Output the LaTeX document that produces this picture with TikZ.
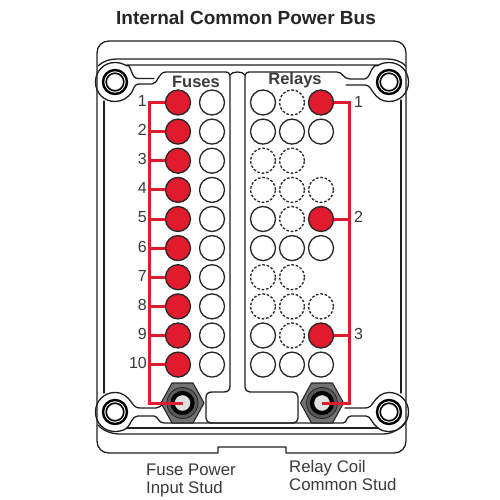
\documentclass[tikz,border=0pt]{standalone}
\usepackage{fontspec}
\setmainfont{Liberation Sans}
\definecolor{busred}{HTML}{E21A2D}
\definecolor{inkgray}{HTML}{3A3A3A}
\tikzset{
  wall/.style={draw=black!88,line width=1.3pt,line join=round,line cap=round},
  slot/.style={circle,draw=black!85,line width=1.3pt,fill=white,minimum size=25pt,inner sep=0pt},
  dashslot/.style={slot,dash pattern=on 2.6pt off 1.8pt},
  fuseon/.style={slot,fill=busred},
  bus/.style={draw=busred,line width=3pt,line join=miter},
  num/.style={text=inkgray,font=\fontsize{16}{16}\selectfont,inner sep=0pt},
  caption/.style={text=inkgray,font=\fontsize{16.8}{18}\selectfont,inner sep=0pt,align=left,anchor=north west},
  head/.style={text=inkgray,font=\bfseries\fontsize{16.5}{16.5}\selectfont,inner sep=0pt},
}
\newcommand{\screw}[3]{%
  \path[fill=white] (#2,#3) circle [radius=15];
  \path[draw=black,line width=2.4pt] (#2,#3) circle [radius=12];
  \path[draw=black,line width=1.6pt,fill=white] (#2,#3) circle [radius=8.8];
  \coordinate (#1) at (#2,#3);
}
\newcommand{\studnut}[3]{%
  \path[fill=black!55,draw=black!85,line width=1.1pt,line join=round]
    (#2-21.5,#3) -- (#2-10.5,#3-20) -- (#2+10.5,#3-20) -- (#2+21.5,#3) -- (#2+10.5,#3+20) -- (#2-10.5,#3+20) -- cycle;
  \path[fill=black!65,draw=black!85,line width=0.8pt] (#2,#3) circle [radius=15.5];
  \path[draw=black,line width=4.2pt,fill=black!12] (#2,#3) circle [radius=10];
  \coordinate (#1) at (#2,#3);
}
\begin{document}
\begin{tikzpicture}[x=1pt,y=-1pt]
\useasboundingbox (0,0) rectangle (500,500);
\fill[white] (0,0) rectangle (500,500);

% outer body
\draw[wall] (109,41) -- (394,41) .. controls (401,41) and (406,46) .. (406,53)
  -- (406,441) .. controls (406,448) and (401,453) .. (394,453)
  -- (286,453) -- (286,447) -- (218,447) -- (218,453) -- (109,453)
  .. controls (102,453) and (97,448) .. (97,441) -- (97,53)
  .. controls (97,46) and (102,41) .. (109,41) -- cycle;
% second line
\draw[wall] (98,66) .. controls (103,61) and (110,59) .. (117,59) -- (387,59)
  .. controls (394,59) and (401,61) .. (406,66);
\draw[wall] (98,425) .. controls (103,431) and (112,434) .. (120,434) -- (383,434)
  .. controls (392,434) and (401,429) .. (406,421);
% side walls
\draw[wall] (104,101) -- (104,393);
\draw[wall] (401,100) -- (401,393);

% top-left boss
\draw[wall] (127,66) .. controls (123,63.5) and (119,62.5) .. (115,62.5)
  .. controls (104,62.5) and (95.5,71) .. (95.5,82)
  .. controls (95.5,93) and (104,101.5) .. (115,101.5)
  .. controls (122,101.5) and (128,98) .. (132,92)
  .. controls (134,87) and (135,84) .. (139,84) -- (152,84)
  .. controls (158,84) and (158,72) .. (166,72) -- (226,72)
  .. controls (228,72) and (229,73) .. (230,75) -- (230,386)
  .. controls (230,390) and (228,392) .. (224,392) -- (212,392)
  .. controls (208,392) and (206,394) .. (206,398) -- (206,418)
  .. controls (206,421) and (208,423) .. (211,423) -- (293,423)
  .. controls (296,423) and (298,421) .. (298,418) -- (298,397)
  .. controls (298,394) and (296,392) .. (293,392) -- (250,392)
  .. controls (247,392) and (245,390) .. (245,387) -- (245,75)
  .. controls (246,73) and (247,72) .. (249,72) -- (337,72)
  .. controls (343,72) and (343,79) .. (350,79) -- (364,79)
  .. controls (371,79) and (370,65) .. (378,65) -- (127,65)
  .. controls (132,66) and (131,78.5) .. (138,78.5) -- (154,78.5);
\draw[wall] (230,75) .. controls (232,71) and (243,71) .. (245,75);
% top-right boss
\draw[wall] (346,85) -- (365,85) .. controls (369,85) and (371,89) .. (373,92)
  .. controls (377,98) and (382,101.5) .. (389,101.5)
  .. controls (400,101.5) and (408.5,93) .. (408.5,82)
  .. controls (408.5,71) and (400,62.5) .. (389,62.5)
  .. controls (384,62.5) and (380,64) .. (377,66);
% bottom-left boss
\draw[wall] (127,428) -- (378,428);
\draw[wall] (127,428) .. controls (131,424) and (132,416) .. (138,416) -- (154,416)
  .. controls (158,416) and (158,423) .. (164,423) -- (343,423)
  .. controls (347,423) and (346,416) .. (351,416) -- (366,416)
  .. controls (371,416) and (372,424) .. (378,428);
\draw[wall] (127,428) .. controls (124,430.5) and (119,431.5) .. (115,431.5)
  .. controls (104,431.5) and (95.5,423) .. (95.5,412)
  .. controls (95.5,401) and (104,392.5) .. (115,392.5)
  .. controls (123,392.5) and (128,397) .. (132,403)
  .. controls (134,406) and (136,408) .. (140,408) -- (156,408)
  .. controls (159,408) and (161,406) .. (164,403);
\draw[wall] (378,428) .. controls (381,430.5) and (385,431.5) .. (389,431.5)
  .. controls (400,431.5) and (408.5,423) .. (408.5,412)
  .. controls (408.5,401) and (400,392.5) .. (389,392.5)
  .. controls (382,392.5) and (377,397) .. (373,403)
  .. controls (371,406) and (369,408) .. (365,408) -- (345,408);

\screw{sTL}{115}{82}
\screw{sTR}{389}{82}
\screw{sBL}{115}{412}
\screw{sBR}{389}{412}

\studnut{studL}{182.5}{403}
\studnut{studR}{322}{403}

% slots
\foreach \i/\yy in {1/102.5,2/131.6,3/160.7,4/189.9,5/219,6/248.1,7/277.2,8/306.4,9/335.5,10/364.6}{
  \node[fuseon] (f\i) at (178,\yy) {};
  \node[slot] (g\i) at (212,\yy) {};
  \node[num,anchor=east] (n\i) at (147,\yy-1.5) {\i};
}
\foreach \i/\yy in {1/102.5,2/131.6,5/219,6/248.1,9/335.5,10/364.6}{
  \node[slot] (ra\i) at (263,\yy) {};
}
\foreach \i/\yy in {3/160.7,4/189.9,7/277.2,8/306.4}{
  \node[dashslot] (ra\i) at (263,\yy) {};
}
\foreach \i/\yy in {2/131.6,6/248.1,10/364.6}{
  \node[slot] (rb\i) at (292,\yy) {};
  \node[slot] (rc\i) at (321,\yy) {};
}
\foreach \i/\yy in {1/102.5,3/160.7,4/189.9,5/219,7/277.2,8/306.4,9/335.5}{
  \node[dashslot] (rb\i) at (292,\yy) {};
}
\foreach \i/\yy in {4/189.9,8/306.4}{
  \node[dashslot] (rc\i) at (321,\yy) {};
}
\foreach \i/\yy in {1/102.5,5/219,9/335.5}{
  \node[fuseon] (rc\i) at (321,\yy) {};
}

% buses
\coordinate (busLtop) at (149,102.5);
\coordinate (busRtop) at (349,102.5);
\draw[bus] (f1.west) -- (busLtop) -- (busLtop |- studL) -- (studL);
\foreach \i in {2,...,10}{
  \draw[bus] (f\i.west) -- (f\i.west -| busLtop);
}
\draw[bus] (rc1.east) -- (busRtop) -- (busRtop |- studR) -- (studR);
\foreach \i in {5,9}{
  \draw[bus] (rc\i.east) -- (rc\i.east -| busRtop);
}
\node[num,anchor=west] (m1) at (354,102) {1};
\node[num,anchor=west] (m2) at (354,217) {2};
\node[num,anchor=west] (m3) at (354,334) {3};

% text
\node[font=\bfseries\fontsize{19}{19}\selectfont,text=black!85,inner sep=0pt] (title) at (246,18) {Internal Common Power Bus};
\node[head] (fuses) at (196,82) {Fuses};
\node[head] (relays) at (295,80) {Relays};
\node[caption] (capL) at (146,463.5) {Fuse Power\\Input Stud};
\node[caption] (capR) at (289,460.5) {Relay Coil\\Common Stud};
\end{tikzpicture}
\end{document}
